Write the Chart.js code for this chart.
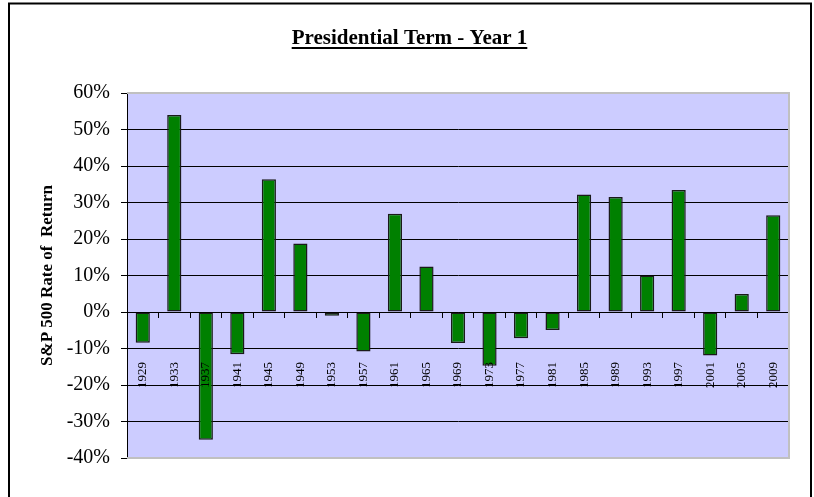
<!DOCTYPE html>
<html lang="en">
<head>
  <meta charset="UTF-8" />
  <title>Presidential Term - Year 1</title>
  <script src="https://cdn.jsdelivr.net/npm/chart.js"></script>
  <style>
    html, body { margin: 0; padding: 0; background: #fff; }
    #wrap { width: 814px; height: 497px; }
  </style>
</head>
<body>
  <div id="wrap"><canvas id="termChart" width="814" height="497"></canvas></div>

  <script>
    // first year of each presidential term
    const years = ["1929", "1933", "1937", "1941", "1945", "1949", "1953", "1957", "1961", "1965", "1969",
                   "1973", "1977", "1981", "1985", "1989", "1993", "1997", "2001", "2005", "2009"];
    // S&P 500 rate of return, percent
    const returns = [-8.4, 54.0, -35.0, -11.6, 36.4, 18.8, -1.0, -10.8, 26.9, 12.5, -8.5,
                     -14.7, -7.2, -4.9, 32.2, 31.5, 10.0, 33.4, -11.9, 4.9, 26.5];
    const yTicks = [-40, -30, -20, -10, 0, 10, 20, 30, 40, 50, 60];

    const serif = '"Liberation Serif", "Times New Roman", serif';
    const titleSize = 21;

    // plot background, outer frame, grey plot border and title underline
    const decor = {
      id: "decor",
      beforeDraw(chart) {
        const { ctx, chartArea: a } = chart;
        ctx.save();
        ctx.fillStyle = "#ffffff";
        ctx.fillRect(0, 0, chart.width, chart.height);
        ctx.fillStyle = "#ccccff";
        ctx.fillRect(a.left, a.top, a.right - a.left, a.bottom - a.top);
        ctx.strokeStyle = "#000";
        ctx.lineWidth = 2;
        ctx.strokeRect(9, 3.5, 802, 560);
        ctx.restore();
      },
      afterDraw(chart) {
        const { ctx, chartArea: a } = chart;
        ctx.save();
        ctx.strokeStyle = "#c0c0c0";
        ctx.lineWidth = 2;
        ctx.beginPath();
        ctx.moveTo(a.left, a.top);
        ctx.lineTo(a.right, a.top);
        ctx.lineTo(a.right, a.bottom);
        ctx.lineTo(a.left, a.bottom);
        ctx.stroke();

        // underline the title
        const t = chart.titleBlock;
        if (t) {
          ctx.font = "bold " + titleSize + "px " + serif;
          const w = ctx.measureText(t.options.text).width;
          const cx = (t.left + t.right) / 2;
          const y = t.top + t._padding.top + titleSize * 0.6 + 9.5;
          ctx.strokeStyle = "#000";
          ctx.lineWidth = 2;
          ctx.beginPath();
          ctx.moveTo(cx - w / 2, y);
          ctx.lineTo(cx + w / 2, y);
          ctx.stroke();
        }
        ctx.restore();
      }
    };

    new Chart(document.getElementById("termChart"), {
      type: "bar",
      data: {
        labels: years,
        datasets: [{
          data: returns,
          backgroundColor: "#008000",
          borderColor: "#1a1a1a",
          borderWidth: 1.5,
          borderSkipped: false,
          barPercentage: 0.45,
          categoryPercentage: 1
        }]
      },
      options: {
        responsive: false,
        animation: false,
        layout: { padding: { top: 0, left: 30, right: 25, bottom: 39 } },
        plugins: {
          legend: { display: false },
          tooltip: { enabled: false },
          title: {
            display: true,
            text: "Presidential Term - Year 1",
            color: "#000",
            font: { family: serif, size: titleSize, weight: "bold" },
            padding: { top: 26, bottom: 41.8 }
          }
        },
        scales: {
          x: {
            position: { y: 0 },
            afterFit(scale) { scale.paddingLeft = 0; scale.paddingRight = 0; },
            border: { display: true, color: "#000", width: 1, z: 1 },
            grid: { display: true, drawOnChartArea: false, drawTicks: true, tickLength: 5, color: "#000", offset: true, z: 1 },
            ticks: {
              z: 1,
              minRotation: 90,
              maxRotation: 90,
              autoSkip: false,
              padding: 45,
              color: "#000",
              font: { family: serif, size: 13 }
            }
          },
          y: {
            min: -40,
            max: 60,
            afterBuildTicks(scale) {
              scale.ticks = yTicks.map(v => ({ value: v }));
            },
            afterFit(scale) { scale.width = 97; },
            border: { display: true, color: "#000", width: 1 },
            grid: {
              color: ctx => (ctx.tick && (ctx.tick.value === 60 || ctx.tick.value === -40)) ? "rgba(0,0,0,0)" : "#000",
              tickColor: "#000",
              tickLength: 6,
              lineWidth: 1
            },
            ticks: {
              padding: 11,
              color: "#000",
              font: { family: serif, size: 20 },
              callback: v => v + "%"
            },
            title: {
              display: true,
              text: "S&P 500 Rate of  Return",
              color: "#000",
              font: { family: serif, size: 17, weight: "bold" },
              padding: { top: 7, bottom: 0 }
            }
          }
        }
      },
      plugins: [decor]
    });
  </script>
</body>
</html>
